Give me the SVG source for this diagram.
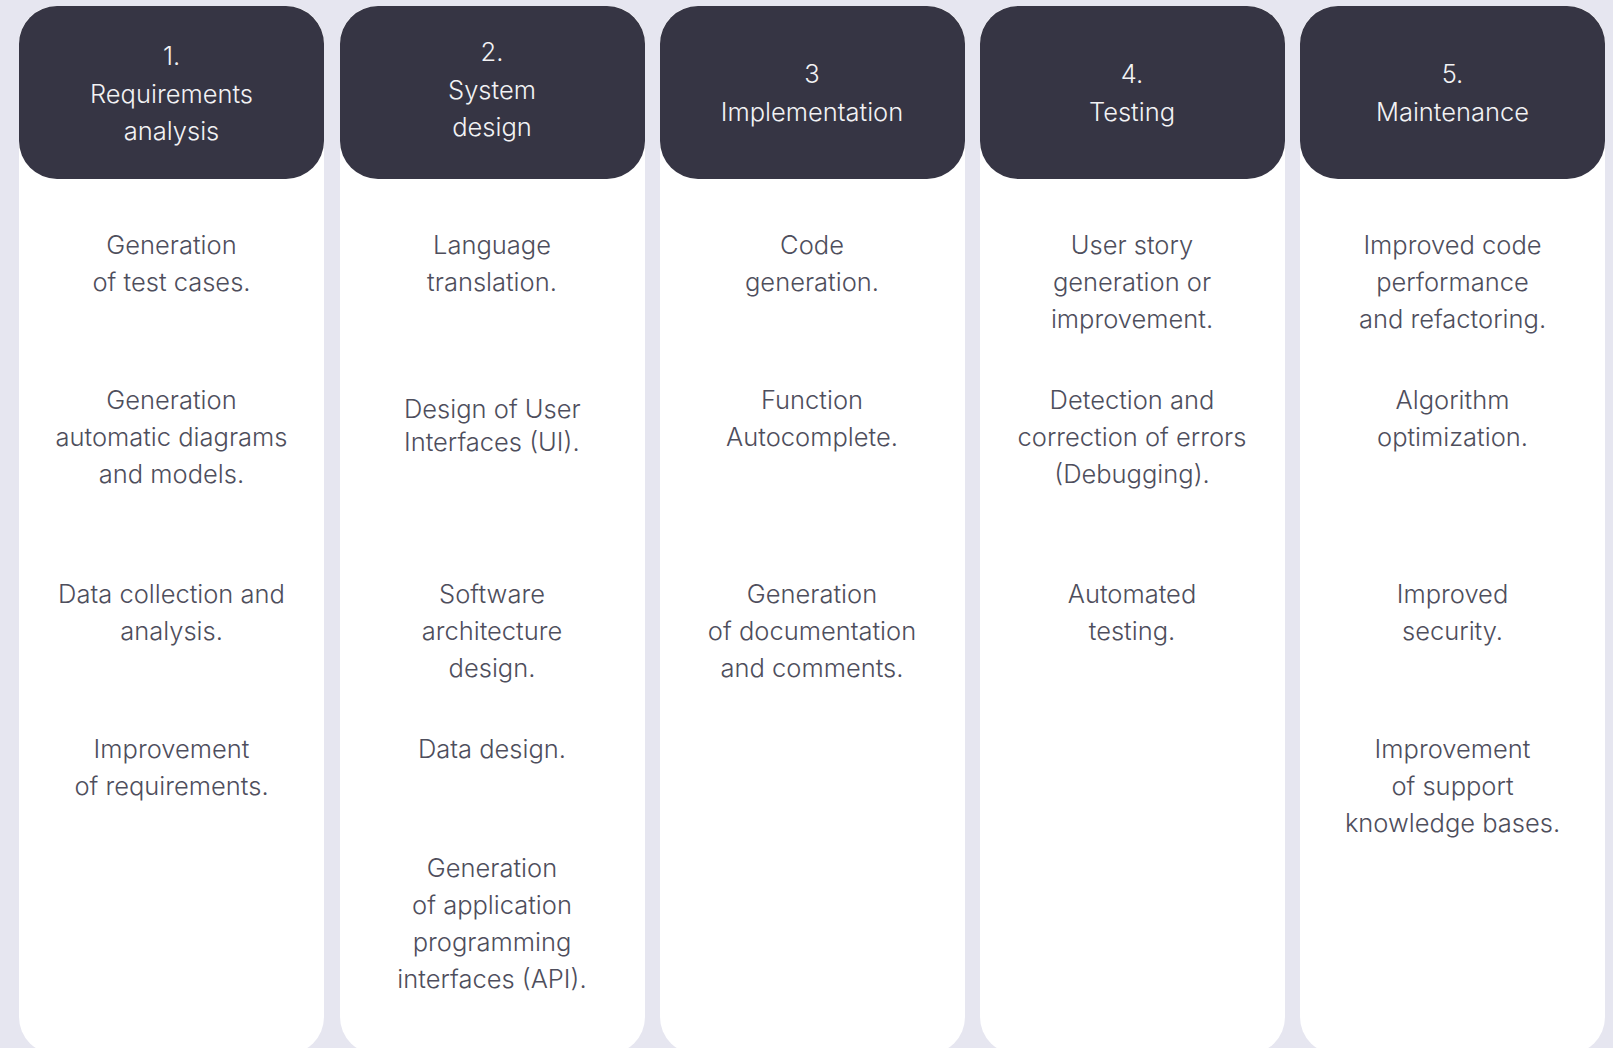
<svg xmlns="http://www.w3.org/2000/svg" width="1613" height="1048" viewBox="0 0 1613 1048">
<style>
.bg{fill:#e6e6f0}
.col{fill:#ffffff}
.hdr{fill:#363544}
text{font-family:Inter,"Noto Sans","Liberation Sans",sans-serif;font-size:25.5px;font-weight:300;text-anchor:middle}
.ht{fill:#f2f2f4}
.bt{fill:#4e4e5c}
.la{text-anchor:start}
</style>
<rect class="bg" x="0" y="0" width="1613" height="1048"/>
<g id="col1">
<rect class="col" x="19" y="6" width="305" height="1048" rx="37"/>
<rect class="hdr" x="19" y="6" width="305" height="173" rx="38"/>
<text class="ht" x="171.5" y="65">1.</text>
<text class="ht" x="171.5" y="103">Requirements</text>
<text class="ht" x="171.5" y="140">analysis</text>
<text class="bt" x="171.5" y="254">Generation</text>
<text class="bt" x="171.5" y="291">of test cases.</text>
<text class="bt" x="171.5" y="409">Generation</text>
<text class="bt" x="171.5" y="446">automatic diagrams</text>
<text class="bt" x="171.5" y="483">and models.</text>
<text class="bt" x="171.5" y="603">Data collection and</text>
<text class="bt" x="171.5" y="640">analysis.</text>
<text class="bt" x="171.5" y="758">Improvement</text>
<text class="bt" x="171.5" y="795">of requirements.</text>
</g>
<g id="col2">
<rect class="col" x="340" y="6" width="305" height="1048" rx="37"/>
<rect class="hdr" x="340" y="6" width="305" height="173" rx="38"/>
<text class="ht" x="492" y="61">2.</text>
<text class="ht" x="492" y="99">System</text>
<text class="ht" x="492" y="136">design</text>
<text class="bt" x="492" y="254">Language</text>
<text class="bt" x="492" y="291">translation.</text>
<text class="bt la" x="404" y="418">Design of User</text>
<text class="bt la" x="404" y="451">Interfaces (UI).</text>
<text class="bt" x="492" y="603">Software</text>
<text class="bt" x="492" y="640">architecture</text>
<text class="bt" x="492" y="677">design.</text>
<text class="bt" x="492" y="758">Data design.</text>
<text class="bt" x="492" y="877">Generation</text>
<text class="bt" x="492" y="914">of application</text>
<text class="bt" x="492" y="951">programming</text>
<text class="bt" x="492" y="988">interfaces (API).</text>
</g>
<g id="col3">
<rect class="col" x="660" y="6" width="305" height="1048" rx="37"/>
<rect class="hdr" x="660" y="6" width="305" height="173" rx="38"/>
<text class="ht" x="812" y="83">3</text>
<text class="ht" x="812" y="121">Implementation</text>
<text class="bt" x="812" y="254">Code</text>
<text class="bt" x="812" y="291">generation.</text>
<text class="bt" x="812" y="409">Function</text>
<text class="bt" x="812" y="446">Autocomplete.</text>
<text class="bt" x="812" y="603">Generation</text>
<text class="bt" x="812" y="640">of documentation</text>
<text class="bt" x="812" y="677">and comments.</text>
</g>
<g id="col4">
<rect class="col" x="980" y="6" width="305" height="1048" rx="37"/>
<rect class="hdr" x="980" y="6" width="305" height="173" rx="38"/>
<text class="ht" x="1132" y="83">4.</text>
<text class="ht" x="1132" y="121">Testing</text>
<text class="bt" x="1132" y="254">User story</text>
<text class="bt" x="1132" y="291">generation or</text>
<text class="bt" x="1132" y="328">improvement.</text>
<text class="bt" x="1132" y="409">Detection and</text>
<text class="bt" x="1132" y="446">correction of errors</text>
<text class="bt" x="1132" y="483">(Debugging).</text>
<text class="bt" x="1132" y="603">Automated</text>
<text class="bt" x="1132" y="640">testing.</text>
</g>
<g id="col5">
<rect class="col" x="1300" y="6" width="305" height="1048" rx="37"/>
<rect class="hdr" x="1300" y="6" width="305" height="173" rx="38"/>
<text class="ht" x="1452.5" y="83">5.</text>
<text class="ht" x="1452.5" y="121">Maintenance</text>
<text class="bt" x="1452.5" y="254">Improved code</text>
<text class="bt" x="1452.5" y="291">performance</text>
<text class="bt" x="1452.5" y="328">and refactoring.</text>
<text class="bt" x="1452.5" y="409">Algorithm</text>
<text class="bt" x="1452.5" y="446">optimization.</text>
<text class="bt" x="1452.5" y="603">Improved</text>
<text class="bt" x="1452.5" y="640">security.</text>
<text class="bt" x="1452.5" y="758">Improvement</text>
<text class="bt" x="1452.5" y="795">of support</text>
<text class="bt" x="1452.5" y="832">knowledge bases.</text>
</g>
<g id="connectors"></g>
</svg>
